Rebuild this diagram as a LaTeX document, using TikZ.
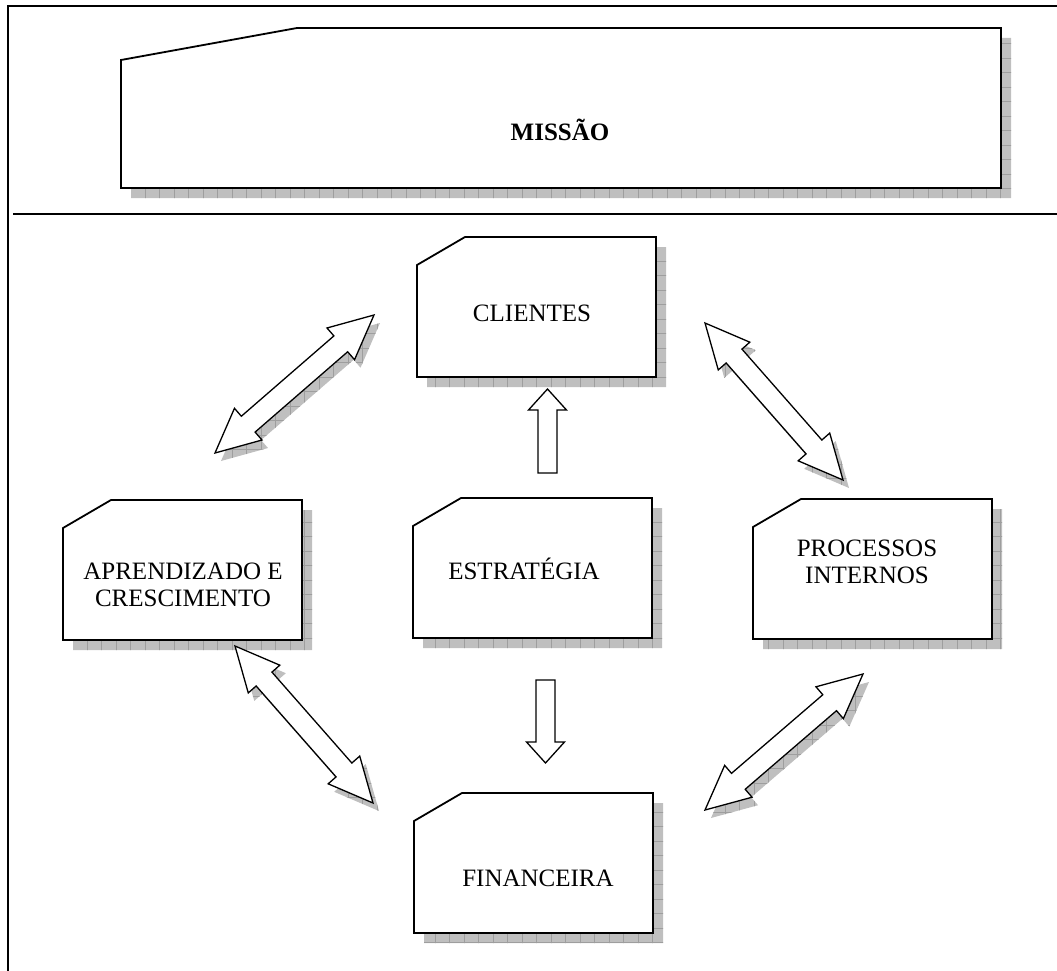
\documentclass[tikz,border=0pt]{standalone}
\usepackage{fontspec}
\setmainfont{Liberation Serif}
\usetikzlibrary{calc}

\tikzset{
  frameline/.style={line width=2pt},
  cardline/.style={draw=black, fill=white, line width=1.8pt, line join=miter},
  arrowline/.style={draw=black, fill=white, line width=1.3pt, line join=miter},
  shadowfill/.style={fill=black!25},
  shadowgrid/.style={draw=black!38, line width=0.5pt},
  caption/.style={font=\fontsize{25}{27}\selectfont, align=center, inner sep=0pt},
}

% gray drop shadow with a fine grid, clipped to the given path
\newcommand\dropshadow[1]{%
  \begin{scope}
    \clip #1;
    \fill[shadowfill] (0,0) rectangle (1057,971);
    \draw[shadowgrid, step=14.5pt] (0,0) grid (1057,971);
  \end{scope}}

% outline of a card with a cut top-left corner; #1 = left, #2 = top
\newcommand\cardpoly[2]{({#1},{#2+28}) -- ({#1+48},{#2}) -- ({#1+239},{#2})
    -- ({#1+239},{#2+140}) -- ({#1},{#2+140}) -- cycle}

% card with its shadow
\newcommand\card[2]{%
  \dropshadow{\cardpoly{#1+10}{#2+10}}
  \draw[cardline] \cardpoly{#1}{#2};}

% outline of a double-headed block arrow between two tips
\newcommand\dblpoly[2]{(#1)
  -- ($(#1)!44pt!(#2)!21pt!90:(#2)$) -- ($(#1)!44pt!(#2)!10.5pt!90:(#2)$)
  -- ($(#2)!44pt!(#1)!10.5pt!-90:(#1)$) -- ($(#2)!44pt!(#1)!21pt!-90:(#1)$)
  -- (#2)
  -- ($(#2)!44pt!(#1)!21pt!90:(#1)$) -- ($(#2)!44pt!(#1)!10.5pt!90:(#1)$)
  -- ($(#1)!44pt!(#2)!10.5pt!-90:(#2)$) -- ($(#1)!44pt!(#2)!21pt!-90:(#2)$)
  -- cycle}

% double arrow with its shadow
\newcommand\dblarrow[2]{%
  \coordinate (#1s) at ($(#1)+(6,8)$);
  \coordinate (#2s) at ($(#2)+(6,8)$);
  \dropshadow{\dblpoly{#1s}{#2s}}
  \draw[arrowline] \dblpoly{#1}{#2};}

% outline of a single block arrow from tail #1 to tip #2
\newcommand\sglpoly[2]{($(#1)!9.5pt!90:(#2)$)
  -- ($(#2)!21pt!(#1)!9.5pt!-90:(#1)$) -- ($(#2)!21pt!(#1)!19pt!-90:(#1)$)
  -- (#2)
  -- ($(#2)!21pt!(#1)!19pt!90:(#1)$) -- ($(#2)!21pt!(#1)!9.5pt!90:(#1)$)
  -- ($(#1)!9.5pt!-90:(#2)$) -- cycle}

\begin{document}
\begin{tikzpicture}[x=1pt, y=-1pt]
  \useasboundingbox (0,0) rectangle (1057,971);

  % outer frame and divider
  \draw[frameline] (1057,6) -- (7.5,6) -- (7.5,971);
  \draw[frameline] (13,214) -- (1057,214);

  % mission banner
  \dropshadow{(131,70) -- (307,38) -- (1011,38) -- (1011,198) -- (131,198) -- cycle}
  \draw[cardline] (121,60) -- (297,28) -- (1001,28) -- (1001,188) -- (121,188) -- cycle;
  \node[caption, font=\fontsize{25}{27}\selectfont\bfseries] (mission) at (560,130) {MISSÃO};

  % perspective cards
  \card{417}{237}
  \card{413}{498}
  \card{63}{500}
  \card{753}{499}
  \card{414}{793}

  \node[caption] (clientes)    at (532,313) {CLIENTES};
  \node[caption] (estrategia)  at (524,569) {ESTRATÉGIA};
  \node[caption] (aprendizado) at (183,585) {APRENDIZADO E\\CRESCIMENTO};
  \node[caption] (processos)   at (867,562) {PROCESSOS\\INTERNOS};
  \node[caption] (financeira)  at (538,878) {FINANCEIRA};

  % arrow end points
  \coordinate (ca1) at (374,315);
  \coordinate (ca2) at (215,453);
  \coordinate (cp1) at (705,323);
  \coordinate (cp2) at (843,480);
  \coordinate (af1) at (235,646);
  \coordinate (af2) at (373,803);
  \coordinate (fp1) at (705,810);
  \coordinate (fp2) at (863,674);
  \coordinate (su0) at (547.5,473);
  \coordinate (su1) at (547.5,389);
  \coordinate (sd0) at (545.5,680);
  \coordinate (sd1) at (545.5,763);

  % two-way links between perspectives
  \dblarrow{ca1}{ca2}
  \dblarrow{cp1}{cp2}
  \dblarrow{af1}{af2}
  \dblarrow{fp1}{fp2}

  % strategy links
  \draw[arrowline] \sglpoly{su0}{su1};
  \draw[arrowline] \sglpoly{sd0}{sd1};
\end{tikzpicture}
\end{document}
